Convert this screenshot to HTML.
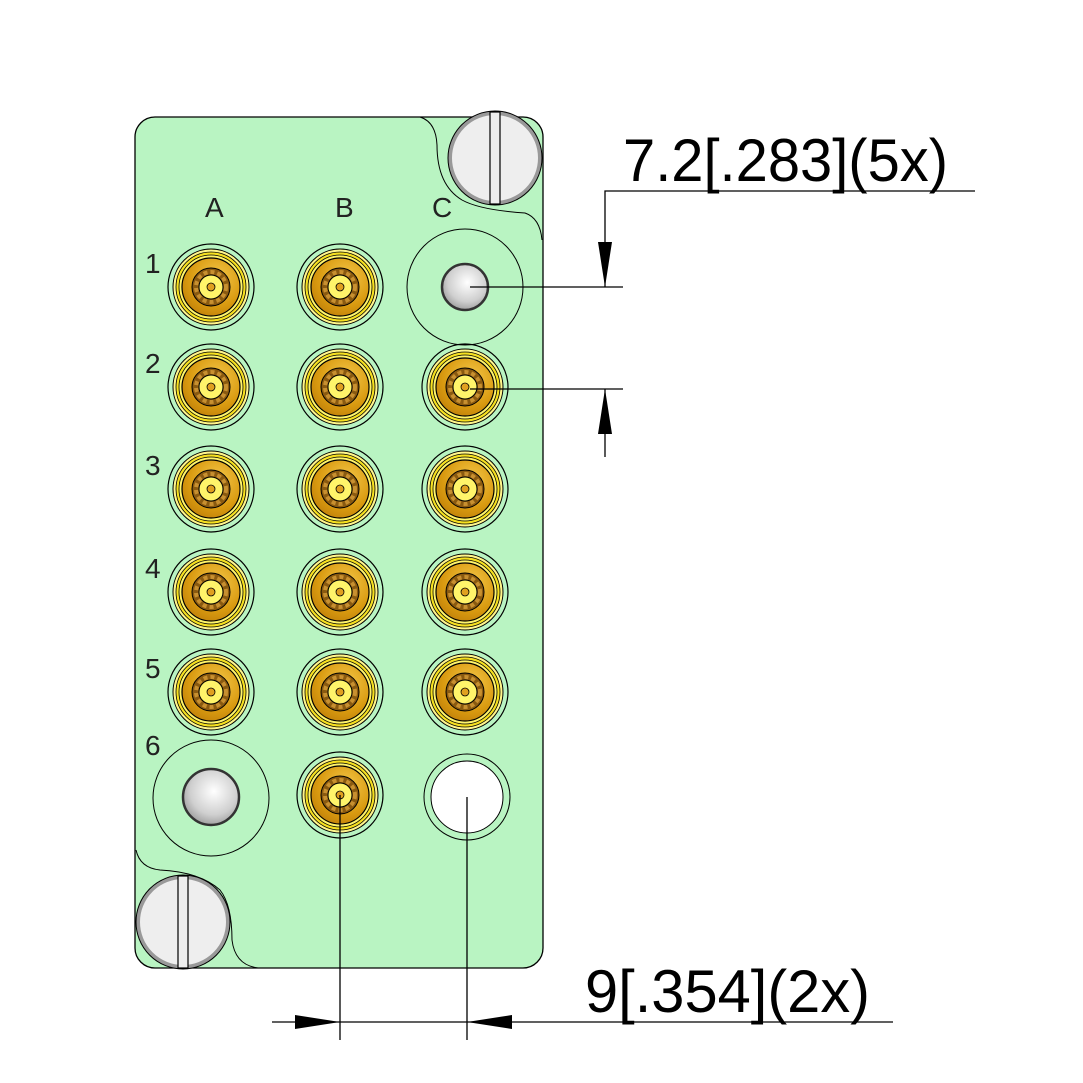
<!DOCTYPE html>
<html><head><meta charset="utf-8"><style>html,body{margin:0;padding:0;background:#fff}svg{display:block}</style></head>
<body>
<svg width="1083" height="1083" viewBox="0 0 1083 1083" xmlns="http://www.w3.org/2000/svg">
<defs>
<radialGradient id="gold" cx="0.6" cy="0.35" r="0.8">
<stop offset="0" stop-color="#f4c84a"/><stop offset="0.6" stop-color="#d99a10"/><stop offset="1" stop-color="#b87808"/></radialGradient>
<radialGradient id="ball" cx="0.55" cy="0.4" r="0.7">
<stop offset="0" stop-color="#ffffff"/><stop offset="0.6" stop-color="#cfcfcf"/><stop offset="1" stop-color="#8a8a8a"/></radialGradient>
<g id="con">
<circle r="43" fill="none" stroke="#000" stroke-width="1.2"/>
<circle r="38" fill="#fff58a" stroke="#000" stroke-width="1"/>
<circle r="35" fill="#f6e020" stroke="#000" stroke-width="0.8"/>
<circle r="32" fill="#fff46a" stroke="#000" stroke-width="0.8"/>
<circle r="29" fill="url(#gold)" stroke="#000" stroke-width="1.2"/>
<circle r="19" fill="#8a5a10" stroke="#000" stroke-width="1"/>
<circle r="15" fill="none" stroke="#c89030" stroke-width="4" stroke-dasharray="4 3"/>
<circle r="12" fill="#fff46a" stroke="#000" stroke-width="1"/>
<circle r="4" fill="#e0a020" stroke="#000" stroke-width="0.8"/>
</g>
</defs>
<!-- panel -->
<rect x="135" y="117" width="408" height="851" rx="20" fill="#b9f4c2" stroke="#000" stroke-width="1.3"/>
<path d="M420 117 Q436 122 437 145 Q437 185 462 200 Q480 210 525 213 Q540 218 542 240" fill="none" stroke="#000" stroke-width="1"/>
<path d="M136 850 Q140 868 160 870 Q200 872 220 890 Q232 905 232 940 Q235 965 258 968" fill="none" stroke="#000" stroke-width="1"/>
<!-- screws -->
<g transform="translate(495,158)"><circle r="45" fill="#eeeeee" stroke="#999" stroke-width="4"/><circle r="47" fill="none" stroke="#000" stroke-width="1"/><rect x="-5" y="-46" width="10" height="92" fill="#eee" stroke="#000" stroke-width="1.2"/></g>
<g transform="translate(183,922)"><circle r="45" fill="#eeeeee" stroke="#999" stroke-width="4"/><circle r="47" fill="none" stroke="#000" stroke-width="1"/><rect x="-5" y="-46" width="10" height="92" fill="#eee" stroke="#000" stroke-width="1.2"/></g>
<!-- labels -->
<g font-family="Liberation Sans, sans-serif" font-size="28" fill="#222">
<text x="205" y="217">A</text><text x="335" y="217">B</text><text x="432" y="217">C</text>
<text x="145" y="273">1</text><text x="145" y="373">2</text><text x="145" y="475">3</text><text x="145" y="578">4</text><text x="145" y="678">5</text><text x="145" y="755">6</text>
</g>
<!-- connectors -->
<use href="#con" x="211" y="287"/><use href="#con" x="340" y="287"/>
<use href="#con" x="211" y="387"/><use href="#con" x="340" y="387"/><use href="#con" x="465" y="387"/>
<use href="#con" x="211" y="489"/><use href="#con" x="340" y="489"/><use href="#con" x="465" y="489"/>
<use href="#con" x="211" y="592"/><use href="#con" x="340" y="592"/><use href="#con" x="465" y="592"/>
<use href="#con" x="211" y="692"/><use href="#con" x="340" y="692"/><use href="#con" x="465" y="692"/>
<use href="#con" x="340" y="795"/>
<!-- C1 -->
<circle cx="465" cy="287" r="58" fill="none" stroke="#000" stroke-width="1"/>
<circle cx="465" cy="287" r="23" fill="url(#ball)" stroke="#333" stroke-width="2.5"/>
<!-- A6 -->
<circle cx="211" cy="798" r="58" fill="none" stroke="#000" stroke-width="1"/>
<circle cx="211" cy="797" r="28" fill="url(#ball)" stroke="#333" stroke-width="2.5"/>
<!-- C6 -->
<circle cx="467" cy="797" r="43" fill="none" stroke="#000" stroke-width="1"/>
<circle cx="467" cy="797" r="36" fill="#fff" stroke="#000" stroke-width="1"/>
<!-- dimensions -->
<g stroke="#000" stroke-width="1.3" fill="none">
<path d="M605 287 V191 H975"/>
<path d="M470 287 H623 M470 389 H623 M605 389 V457"/>
<path d="M340 795 V1040 M467 797 V1040 M272 1022 H893"/>
</g>
<g fill="#000">
<path d="M605 287 L598 242 H612 Z"/>
<path d="M605 389 L598 434 H612 Z"/>
<path d="M340 1022 L295 1015 V1029 Z"/>
<path d="M467 1022 L512 1015 V1029 Z"/>
</g>
<g font-family="Liberation Sans, sans-serif" font-size="60" fill="#000">
<text x="623" y="181" textLength="325" lengthAdjust="spacingAndGlyphs">7.2[.283](5x)</text>
<text x="585" y="1012" textLength="285" lengthAdjust="spacingAndGlyphs">9[.354](2x)</text>
</g>
</svg>
</body></html>
